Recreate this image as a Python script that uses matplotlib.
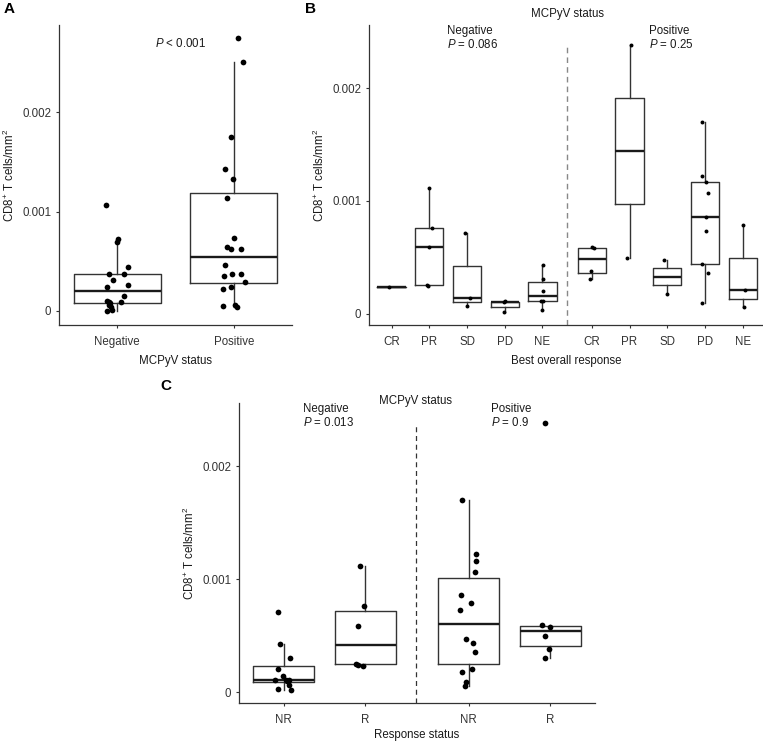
import numpy as np
import matplotlib
matplotlib.use("Agg")
import matplotlib.pyplot as plt

plt.rcParams['font.family'] = ['Liberation Sans', 'DejaVu Sans']
plt.rcParams['mathtext.fontset'] = 'custom'
plt.rcParams['mathtext.rm'] = 'Liberation Sans'
plt.rcParams['mathtext.it'] = 'Liberation Sans:italic'
plt.rcParams['mathtext.bf'] = 'Liberation Sans:bold'

# values are in units of 0.001 cells/mm2, offsets are jitter in category units
# Panel A
a_cats = ["Negative", "Positive"]
a_neg = [1.064, 0.724, 0.697, 0.441, 0.371, 0.371, 0.313, 0.266, 0.246, 0.148,
         0.091, 0.098, 0.084, 0.064, 0.043, 0.000, 0.007, 0.090]
a_neg_off = [-0.097, 0.006, 0.0, 0.088, -0.071, 0.054, -0.04, 0.088, -0.088, 0.06,
             0.028, -0.085, -0.06, -0.068, -0.051, -0.088, -0.048, -0.074]
a_pos = [2.745, 2.503, 1.755, 1.426, 1.329, 1.141, 0.738, 0.641, 0.621, 0.628,
         0.460, 0.376, 0.356, 0.369, 0.292, 0.225, 0.238, 0.050, 0.057, 0.037]
a_pos_off = [0.034, 0.083, -0.023, -0.074, -0.006, -0.06, 0.0, -0.054, -0.023, 0.06,
             -0.074, -0.017, -0.086, 0.06, 0.1, -0.088, -0.023, -0.091, 0.011, 0.029]

# Panel B
b_cats = ["CR", "PR", "SD", "PD", "NE"]
b_neg = [[0.233], [1.114, 0.762, 0.588, 0.254, 0.245], [0.712, 0.142, 0.068],
         [0.113, 0.100, 0.018], [0.431, 0.304, 0.204, 0.112, 0.112, 0.032]]
b_neg_off = [[-0.06], [0.0, 0.06, 0.0, -0.05, -0.045], [-0.045, 0.08, 0.0],
             [0.0, -0.03, -0.03], [0.01, 0.02, 0.02, -0.045, 0.027, 0.0]]
b_pos = [[0.594, 0.582, 0.381, 0.304], [2.387, 0.496], [0.476, 0.177],
         [1.699, 1.223, 1.164, 1.066, 0.857, 0.730, 0.437, 0.357, 0.092],
         [0.786, 0.210, 0.056]]
b_pos_off = [[0.0, 0.07, -0.027, -0.06], [0.027, -0.07], [-0.09, 0.0],
             [-0.07, -0.07, 0.027, 0.07, 0.018, 0.035, -0.07, 0.07, -0.08],
             [0.01, 0.07, 0.027]]

# Panel C
c_cats = ["NR", "R"]
c_neg = [[0.712, 0.431, 0.304, 0.204, 0.113, 0.142, 0.112, 0.112, 0.068, 0.032, 0.018, 0.100],
         [1.114, 0.762, 0.588, 0.254, 0.245, 0.233]]
c_neg_off = [[-0.073, -0.04, 0.078, -0.073, -0.106, -0.008, 0.03, 0.065, 0.07, -0.07, 0.09, 0.04],
             [-0.06, -0.008, -0.086, -0.106, -0.086, -0.02]]
c_pos = [[1.699, 1.223, 1.164, 1.066, 0.857, 0.786, 0.730, 0.476, 0.437, 0.357, 0.210, 0.177, 0.092, 0.056],
         [0.594, 0.582, 0.496, 0.381, 0.304, 2.387]]
c_pos_off = [[-0.086, 0.094, 0.09, 0.073, -0.09, 0.029, -0.1, -0.029, 0.053, 0.073, 0.037, -0.086, -0.029, -0.049],
             [-0.094, -0.004, -0.065, -0.02, -0.06, -0.06]]

b_pvals = ["0.086", "0.25"]
c_pvals = ["0.013", "0.9"]
yticks = [0, 0.001, 0.002]
ytick_labels = ["0", "0.001", "0.002"]
ylab = r"CD8$^{+}$ T cells/mm$^{2}$"

FS = 8.3
TXT = '#1a1a1a'
LINE = '#333333'

fig = plt.figure(figsize=(7.63, 7.43), dpi=100)
W, H = 763, 743


def add_ax(l, t, r, b):
    return fig.add_axes([l / W, 1 - b / H, (r - l) / W, (b - t) / H])


def style(ax):
    for s in ['top', 'right']:
        ax.spines[s].set_visible(False)
    for s in ['left', 'bottom']:
        ax.spines[s].set_color(LINE)
        ax.spines[s].set_linewidth(0.9)
    ax.tick_params(length=2.5, width=0.8, color=LINE, labelsize=FS,
                   labelcolor='#333333', pad=3)
    ax.tick_params(axis='x', pad=5.5)
    ax.set_yticks(yticks)
    ax.set_yticklabels(ytick_labels)
    ax.set_ylabel(ylab, fontsize=FS, color=TXT, labelpad=4)


def boxes(ax, groups, offsets, positions, msize):
    for vals, offs, p in zip(groups, offsets, positions):
        v = np.array(vals) * 1e-3
        ax.boxplot(v, positions=[p], widths=0.75, whis=1.5, showcaps=False,
                   showfliers=False, manage_ticks=False,
                   boxprops=dict(color=LINE, linewidth=1.0),
                   whiskerprops=dict(color=LINE, linewidth=1.0),
                   medianprops=dict(color='#1a1a1a', linewidth=1.7))
        ax.scatter(p + np.array(offs), v, s=msize, color='black', zorder=3,
                   linewidths=0)


# ---- A ----
axA = add_ax(59, 25, 292, 325)
style(axA)
boxes(axA, [a_neg, a_pos], [a_neg_off, a_pos_off], [1, 2], 17)
axA.set_xlim(0.5, 2.5)
axA.set_ylim(-0.000141, 0.00288)
axA.set_xticks([1, 2])
axA.set_xticklabels(a_cats)
axA.set_xlabel("MCPyV status", fontsize=FS, color=TXT, labelpad=5)
axA.text(1.547, 0.002697, r"$P$ < 0.001", fontsize=FS, color=TXT, ha='center', va='center')

# ---- B ----
axB = add_ax(369, 25, 763, 325)
style(axB)
b_xn = [1, 2, 3, 4, 5]
b_xp = [6.31, 7.31, 8.31, 9.31, 10.31]
boxes(axB, b_neg, b_neg_off, b_xn, 8)
boxes(axB, b_pos, b_pos_off, b_xp, 8)
axB.set_xlim(0.4, 10.85)
axB.set_ylim(-0.0001, 0.00256)
axB.set_xticks(b_xn + b_xp)
axB.set_xticklabels(b_cats + b_cats)
axB.vlines(5.655, -0.0001, 0.00237, color='#888888', lw=1.0, ls=(0, (4, 3)))
axB.set_xlabel("Best overall response", fontsize=FS, color=TXT, labelpad=5)
axB.text(5.655, 0.00266, "MCPyV status", fontsize=FS, color=TXT, ha='center', va='center')
for x, name, pv in zip([2.46, 7.83], ["Negative", "Positive"], b_pvals):
    axB.text(x, 0.002508, name, fontsize=FS, color=TXT, ha='left', va='center')
    axB.text(x, 0.002385, r"$P$ = " + pv, fontsize=FS, color=TXT, ha='left', va='center')

# ---- C ----
axC = add_ax(238.7, 403.3, 595, 702.7)
style(axC)
c_xn = [1, 2]
c_xp = [3.27, 4.27]
boxes(axC, c_neg, c_neg_off, c_xn, 17)
boxes(axC, c_pos, c_pos_off, c_xp, 17)
axC.set_xlim(0.45, 4.82)
axC.set_ylim(-0.000092, 0.002557)
axC.set_xticks(c_xn + c_xp)
axC.set_xticklabels(c_cats + c_cats)
axC.vlines(2.623, -0.000092, 0.00237, color='#333333', lw=0.9, ls=(0, (4, 3)))
axC.set_xlabel("Response status", fontsize=FS, color=TXT, labelpad=2.5)
axC.text(2.623, 0.002575, "MCPyV status", fontsize=FS, color=TXT, ha='center', va='center')
for x, name, pv in zip([1.24, 3.546], ["Negative", "Positive"], c_pvals):
    axC.text(x, 0.002507, name, fontsize=FS, color=TXT, ha='left', va='center')
    axC.text(x, 0.002384, r"$P$ = " + pv, fontsize=FS, color=TXT, ha='left', va='center')

# panel letters
for lab, x, y in [("A", 4, 9), ("B", 305, 9), ("C", 160, 386)]:
    fig.text(x / W, 1 - y / H, lab, fontsize=11, fontweight='bold', ha='left', va='center')

fig.savefig("out.png", dpi=100)
